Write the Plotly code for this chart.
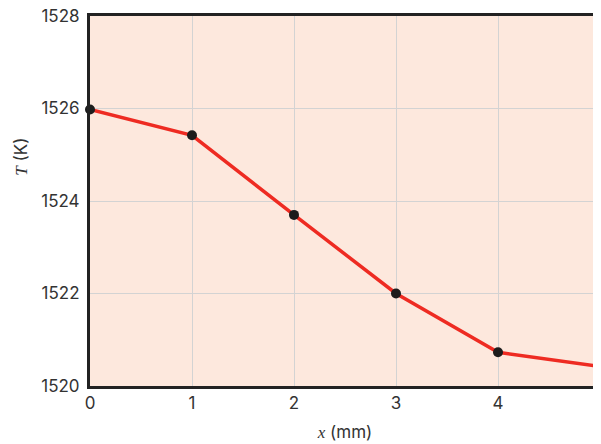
import plotly.graph_objects as go

x_mm = [0, 1, 2, 3, 4, 5]
temp_K = [1525.98, 1525.42, 1523.70, 1522.00, 1520.73, 1520.42]
x_ticks = [0, 1, 2, 3, 4, 5]
y_ticks = [1520, 1522, 1524, 1526, 1528]

fig = go.Figure()
fig.add_trace(go.Scatter(
    x=x_mm, y=temp_K, mode="lines+markers",
    line=dict(color="#ee2b22", width=3.5),
    marker=dict(color="#1c1c1c", size=10),
    cliponaxis=False, showlegend=False,
))

font_fam = "Inter, Roboto, sans-serif"
serif = "Liberation Serif, DejaVu Serif, serif"
fig.update_layout(
    width=593, height=436,
    margin=dict(l=82, r=1, t=8, b=58),
    paper_bgcolor="white",
    plot_bgcolor="#fde8dd",
    font=dict(family=font_fam, size=17, color="#333333"),
    xaxis=dict(
        range=[0, 5], tickvals=x_ticks, showgrid=True, gridcolor="#d3d3d3", gridwidth=1.2,
        zeroline=False, showline=True, linecolor="#222222", linewidth=3, mirror=True,
        ticks="", tickfont=dict(size=17, color="#333333"), automargin=False,
        ticklabeloverflow="allow",
        title=dict(text=f"<span style='font-family:{serif}'><i>x</i></span> (mm)",
                   font=dict(size=17, color="#333333"), standoff=14),
    ),
    yaxis=dict(
        range=[1520, 1528], tickvals=y_ticks, showgrid=True, gridcolor="#d3d3d3", gridwidth=1.2,
        zeroline=False, showline=True, linecolor="#222222", linewidth=3, mirror=True,
        ticks="", tickfont=dict(size=17, color="#333333"), ticklabelstandoff=4,
        automargin=False, ticklabeloverflow="allow",
    ),
    annotations=[dict(
        text=f"<span style='font-family:{serif}'><i>T</i></span> (K)",
        xref="paper", yref="paper", x=-0.137, y=0.62,
        textangle=-90, showarrow=False, font=dict(size=17, color="#333333"),
        xanchor="center", yanchor="middle",
    )],
)
fig.write_html("out.html")
